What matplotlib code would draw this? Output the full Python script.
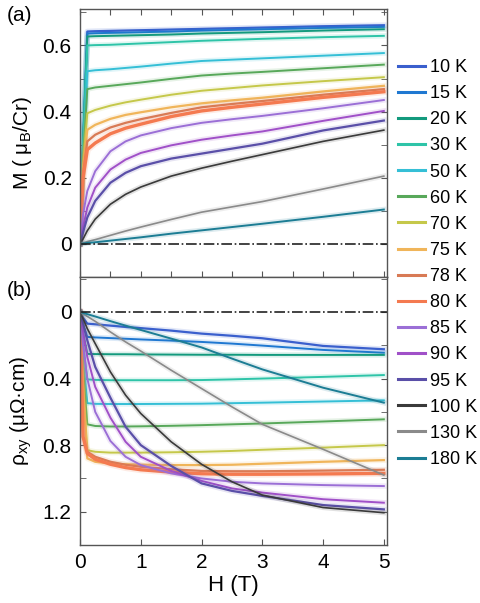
import matplotlib.pyplot as plt
from matplotlib.lines import Line2D
from matplotlib.ticker import MultipleLocator

plt.rcParams['font.family'] = ['Liberation Sans', 'DejaVu Sans']

temps = ['10 K', '15 K', '20 K', '30 K', '50 K', '60 K', '70 K', '75 K',
         '78 K', '80 K', '85 K', '90 K', '95 K', '100 K', '130 K', '180 K']
colors = ['#3a5fcd', '#1f78d1', '#139a7d', '#2ec4a8', '#35bfd6', '#58a85a',
          '#c5c84a', '#f0b55a', '#d87a55', '#f47a50', '#9b6fd6', '#a050c8',
          '#5a4fa8', '#3a3a3a', '#8a8a8a', '#1c7d94']
widths = [1.6, 1.4, 1.4, 1.4, 1.4, 1.4, 1.4, 1.6, 1.6, 2.4, 1.4, 1.4, 1.6, 1.2, 1.2, 1.4]

# field grid (T)
H = [0, 0.05, 0.12, 0.25, 0.5, 0.75, 1, 1.5, 2, 2.5, 3, 4, 5]

# panel (a): M (muB/Cr)
M_10 = [0, 0.3, 0.642, 0.643, 0.644, 0.645, 0.646, 0.648, 0.650, 0.652, 0.654, 0.658, 0.661]
M_15 = [0, 0.3, 0.636, 0.637, 0.638, 0.639, 0.640, 0.642, 0.645, 0.647, 0.649, 0.653, 0.656]
M_20 = [0, 0.3, 0.627, 0.628, 0.629, 0.630, 0.631, 0.633, 0.636, 0.638, 0.640, 0.645, 0.649]
M_30 = [0, 0.3, 0.600, 0.601, 0.602, 0.604, 0.606, 0.610, 0.614, 0.617, 0.620, 0.625, 0.629]
M_50 = [0, 0.28, 0.522, 0.525, 0.528, 0.532, 0.536, 0.545, 0.553, 0.557, 0.561, 0.569, 0.577]
M_60 = [0, 0.26, 0.468, 0.473, 0.478, 0.483, 0.488, 0.499, 0.509, 0.515, 0.520, 0.531, 0.542]
M_70 = [0, 0.24, 0.395, 0.405, 0.418, 0.428, 0.436, 0.451, 0.463, 0.471, 0.479, 0.492, 0.504]
M_75 = [0, 0.22, 0.345, 0.36, 0.378, 0.39, 0.398, 0.413, 0.425, 0.434, 0.442, 0.461, 0.478]
M_78 = [0, 0.21, 0.31, 0.33, 0.352, 0.366, 0.377, 0.396, 0.413, 0.423, 0.432, 0.451, 0.468]
M_80 = [0, 0.2, 0.285, 0.305, 0.333, 0.35, 0.362, 0.385, 0.402, 0.413, 0.423, 0.443, 0.46]
M_85 = [0, 0.09, 0.16, 0.22, 0.28, 0.31, 0.328, 0.35, 0.366, 0.377, 0.387, 0.41, 0.435]
M_90 = [0, 0.05, 0.11, 0.17, 0.225, 0.255, 0.275, 0.298, 0.315, 0.328, 0.34, 0.372, 0.402]
M_95 = [0, 0.035, 0.08, 0.13, 0.185, 0.215, 0.235, 0.258, 0.273, 0.288, 0.303, 0.343, 0.373]
M_100 = [0, 0.015, 0.04, 0.075, 0.12, 0.15, 0.172, 0.205, 0.229, 0.25, 0.27, 0.31, 0.344]
M_130 = [0, 0.003, 0.007, 0.013, 0.026, 0.039, 0.051, 0.074, 0.096, 0.112, 0.128, 0.166, 0.205]
M_180 = [0, 0.001, 0.003, 0.005, 0.01, 0.015, 0.02, 0.031, 0.041, 0.051, 0.061, 0.082, 0.104]

# panel (b): rho_xy (muOhm cm), plotted on an inverted axis
R_10 = [0, 0.035, 0.07, 0.074, 0.082, 0.09, 0.097, 0.112, 0.13, 0.143, 0.158, 0.204, 0.224]
R_15 = [0, 0.075, 0.15, 0.153, 0.157, 0.161, 0.165, 0.172, 0.18, 0.19, 0.202, 0.228, 0.245]
R_20 = [0, 0.13, 0.252, 0.253, 0.254, 0.254, 0.255, 0.256, 0.257, 0.257, 0.258, 0.258, 0.258]
R_30 = [0, 0.2, 0.405, 0.408, 0.41, 0.41, 0.41, 0.41, 0.409, 0.405, 0.4, 0.39, 0.379]
R_50 = [0, 0.28, 0.548, 0.552, 0.553, 0.553, 0.553, 0.552, 0.551, 0.548, 0.545, 0.538, 0.531]
R_60 = [0, 0.34, 0.675, 0.685, 0.688, 0.688, 0.687, 0.684, 0.68, 0.675, 0.67, 0.658, 0.645]
R_70 = [0, 0.42, 0.83, 0.84, 0.845, 0.845, 0.845, 0.843, 0.84, 0.835, 0.828, 0.815, 0.8]
R_75 = [0, 0.45, 0.88, 0.9, 0.91, 0.915, 0.917, 0.92, 0.92, 0.918, 0.912, 0.9, 0.89]
R_78 = [0, 0.75, 0.84, 0.87, 0.9, 0.918, 0.93, 0.945, 0.955, 0.957, 0.957, 0.953, 0.948]
R_80 = [0, 0.75, 0.85, 0.885, 0.915, 0.935, 0.948, 0.962, 0.972, 0.975, 0.975, 0.973, 0.97]
R_85 = [0, 0.2, 0.4, 0.6, 0.775, 0.87, 0.92, 0.97, 1.0, 1.02, 1.03, 1.04, 1.046]
R_90 = [0, 0.12, 0.27, 0.45, 0.635, 0.78, 0.87, 0.955, 1.015, 1.06, 1.085, 1.125, 1.146]
R_95 = [0, 0.07, 0.17, 0.33, 0.515, 0.69, 0.8, 0.925, 1.03, 1.075, 1.105, 1.16, 1.186]
R_100 = [0, 0.04, 0.1, 0.19, 0.36, 0.5, 0.61, 0.78, 0.915, 1.02, 1.1, 1.175, 1.206]
R_130 = [0, 0.011, 0.027, 0.056, 0.12, 0.18, 0.235, 0.35, 0.46, 0.57, 0.675, 0.825, 0.98]
R_180 = [0, 0.005, 0.013, 0.027, 0.055, 0.082, 0.108, 0.16, 0.213, 0.28, 0.345, 0.455, 0.545]

M_all = [M_10, M_15, M_20, M_30, M_50, M_60, M_70, M_75, M_78, M_80,
         M_85, M_90, M_95, M_100, M_130, M_180]
R_all = [R_10, R_15, R_20, R_30, R_50, R_60, R_70, R_75, R_78, R_80,
         R_85, R_90, R_95, R_100, R_130, R_180]

fig = plt.figure(figsize=(4.8, 6.03), dpi=100)
ax1 = fig.add_axes([0.1667, 0.5406, 0.6393, 0.4444])
ax2 = fig.add_axes([0.1667, 0.0962, 0.6393, 0.4444])

for i in range(len(temps)):
    # faint halo like the raw data points under each curve
    ax1.plot(H, M_all[i], color=colors[i], lw=widths[i] + 2.5, alpha=0.15)
    ax1.plot(H, M_all[i], color=colors[i], lw=widths[i])
    ax2.plot(H, R_all[i], color=colors[i], lw=widths[i] + 2.5, alpha=0.15)
    ax2.plot(H, R_all[i], color=colors[i], lw=widths[i])

for ax in (ax1, ax2):
    ax.axhline(0, color='#222222', ls='-.', lw=1.2)
    ax.set_xlim(0, 5.05)
    for s in ax.spines.values():
        s.set_color('#555555')
        s.set_linewidth(1)
    ax.tick_params(which='both', direction='in', length=4, color='#555555',
                   top=True, right=True, labelsize=15, pad=6)

ax1.set_ylim(-0.1, 0.71)
ax1.yaxis.set_major_locator(MultipleLocator(0.2))
ax1.yaxis.set_minor_locator(MultipleLocator(0.1))
ax1.xaxis.set_major_locator(MultipleLocator(0.5))
ax1.set_yticks([0, 0.2, 0.4, 0.6], ['0', '0.2', '0.4', '0.6'])
ax1.tick_params(labelbottom=False)
ax1.set_ylabel('M ( μ$_\\mathregular{B}$/Cr)', fontsize=15, labelpad=6)

ax2.set_ylim(1.4, -0.21)
ax2.set_yticks([0, 0.4, 0.8, 1.2], ['0', '0.4', '0.8', '1.2'])
ax2.yaxis.set_minor_locator(MultipleLocator(0.2))
ax2.set_xticks([0, 1, 2, 3, 4, 5], ['0', '1', '2', '3', '4', '5'])
ax2.tick_params(top=False)
ax2.set_xlabel('H (T)', fontsize=16, labelpad=2)
ax2.set_ylabel('ρ$_\\mathregular{xy}$ (μΩ·cm)', fontsize=15, labelpad=6)

fig.text(0.015, 0.975, '(a)', fontsize=15, va='center')
fig.text(0.015, 0.519, '(b)', fontsize=15, va='center')

handles = [Line2D([], [], color=colors[i], lw=2.2) for i in range(len(temps))]
fig.legend(handles, temps, loc='upper left', bbox_to_anchor=(0.83, 0.902),
           frameon=False, fontsize=13, handlelength=1.45, handletextpad=0.3,
           labelspacing=0.505, borderpad=0, borderaxespad=0)

fig.savefig('out.png', dpi=100)
